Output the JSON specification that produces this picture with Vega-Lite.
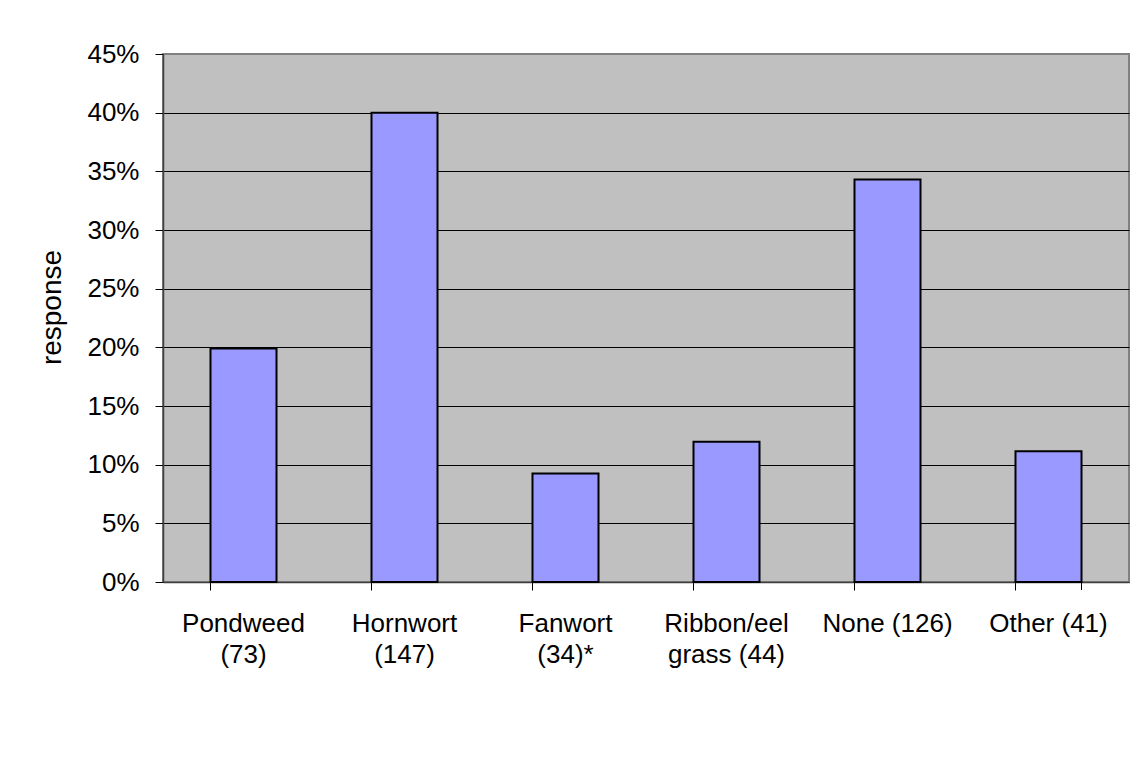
{
  "$schema": "https://vega.github.io/schema/vega-lite/v6.json",
  "autosize": "none",
  "padding": {"left": 163, "top": 54, "right": 12, "bottom": 202},
  "width": 966,
  "height": 528,
  "background": "white",
  "data": {
    "values": [
      {"category": "Pondweed\n(73)", "share": 0.199},
      {"category": "Hornwort\n(147)", "share": 0.400},
      {"category": "Fanwort\n(34)*", "share": 0.0925},
      {"category": "Ribbon/eel\ngrass (44)", "share": 0.1195},
      {"category": "None (126)", "share": 0.343},
      {"category": "Other (41)", "share": 0.1115}
    ]
  },
  "layer": [
    {
      "mark": {"type": "bar", "fill": "#9999FF", "stroke": "#000000", "strokeWidth": 2},
      "encoding": {
        "x": {
          "field": "category",
          "type": "nominal",
          "sort": null,
          "scale": {"paddingInner": 0.59, "paddingOuter": 0.295},
          "axis": {
            "title": null,
            "labelAngle": 0,
            "labelExpr": "split(datum.label, '\\n')",
            "labelFont": "Liberation Sans",
            "labelFontSize": 26,
            "labelColor": "#000000",
            "labelLineHeight": 31,
            "labelPadding": 20,
            "labelBaseline": "top",
            "tickSize": 8,
            "tickColor": "#000000",
            "tickWidth": 1,
            "bandPosition": 0,
            "domainColor": "#404040",
            "domainWidth": 1.5
          }
        },
        "y": {
          "field": "share",
          "type": "quantitative",
          "scale": {"domain": [0, 0.45], "nice": false},
          "axis": {
            "title": "response",
            "titleFont": "Liberation Sans",
            "titleFontSize": 28,
            "titleFontWeight": "normal",
            "titleColor": "#000000",
            "titlePadding": 20,
            "titleY": 253,
            "format": ".0%",
            "values": [0, 0.05, 0.1, 0.15, 0.2, 0.25, 0.3, 0.35, 0.4, 0.45],
            "labelFont": "Liberation Sans",
            "labelFontSize": 26,
            "labelColor": "#000000",
            "labelPadding": 16,
            "tickSize": 8,
            "tickColor": "#000000",
            "domainColor": "#404040",
            "domainWidth": 1.5,
            "grid": true,
            "gridColor": {"condition": {"test": "datum.value >= 0.45", "value": "#808080"}, "value": "#000000"},
            "gridWidth": 1
          }
        }
      }
    },
    {
      "mark": {"type": "rule", "color": "#000000", "strokeWidth": 1},
      "encoding": {
        "x": {"datum": "Other (41)", "bandPosition": 1},
        "y": {"datum": 0},
        "y2": {"datum": -0.0068}
      }
    }
  ],
  "config": {
    "view": {"fill": "#C0C0C0", "stroke": "#808080", "strokeWidth": 2}
  }
}
